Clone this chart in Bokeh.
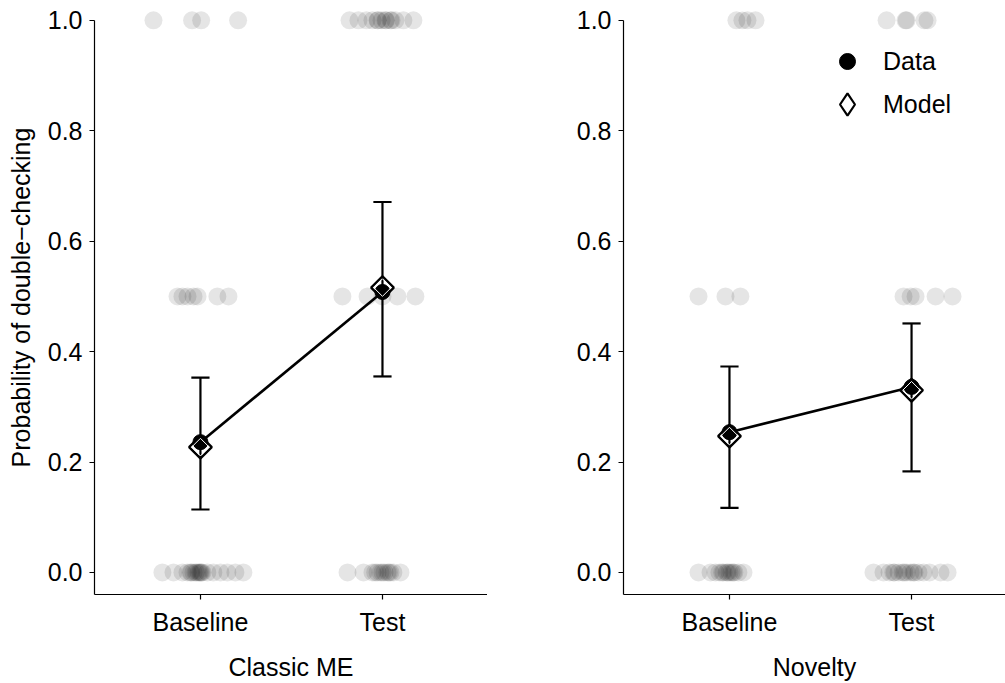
import numpy as np
from bokeh.plotting import figure
from bokeh.layouts import row
from bokeh.models import FixedTicker, Legend, LegendItem, Range1d
from bokeh.embed import file_html
from bokeh.resources import INLINE

# ---------------- data ----------------
conditions = ["Baseline", "Test"]
cond_x = [1, 2]
y_ticks = [0.0, 0.2, 0.4, 0.6, 0.8, 1.0]
y_tick_labels = ["0.0", "0.2", "0.4", "0.6", "0.8", "1.0"]
panel_titles = ["Classic ME", "Novelty"]
y_title = "Probability of double\u2212checking"

# summary values (data mean, model estimate, 95% CI)
classic_data_mean = [0.236, 0.508]
classic_model_mean = [0.227, 0.516]
classic_ci_low = [0.114, 0.355]
classic_ci_high = [0.353, 0.671]

novelty_data_mean = [0.254, 0.336]
novelty_model_mean = [0.247, 0.330]
novelty_ci_low = [0.117, 0.183]
novelty_ci_high = [0.373, 0.451]

classic_b1_x = [0.742, 0.954, 1.004, 1.207]
classic_t1_x = [1.819, 1.868, 1.912, 1.945, 1.973, 1.975, 1.995, 2.016, 2.020, 2.044,
                2.050, 2.071, 2.115, 2.170]
classic_b05_x = [0.874, 0.901, 0.929, 0.962, 0.984, 1.093, 1.154]
classic_t05_x = [1.780, 1.918, 2.000, 2.082, 2.181]
classic_b0_x = [0.791, 0.852, 0.901, 0.929, 0.945, 0.950, 0.962, 0.973, 0.980, 0.989,
                0.995, 1.000, 1.005, 1.011, 1.038, 1.071, 1.110, 1.148, 1.192, 1.236]
classic_t0_x = [1.808, 1.896, 1.945, 1.960, 1.973, 1.989, 2.000, 2.011, 2.027, 2.035,
                2.044, 2.060, 2.099]

novelty_b1_x = [1.038, 1.071, 1.099, 1.143]
novelty_t1_x = [1.863, 1.967, 1.973, 2.071, 2.088]
novelty_b05_x = [0.830, 0.978, 1.060]
novelty_t05_x = [1.956, 1.995, 2.022, 2.132, 2.225]
novelty_b0_x = [0.830, 0.896, 0.923, 0.945, 0.960, 0.967, 0.984, 0.990, 1.000, 1.011,
                1.020, 1.027, 1.049, 1.077]
novelty_t0_x = [1.791, 1.846, 1.879, 1.900, 1.907, 1.929, 1.951, 1.960, 1.973, 1.995,
                2.010, 2.016, 2.038, 2.066, 2.099, 2.159, 2.198]


def stack(b1, t1, b05, t05, b0, t0):
    xs = b1 + t1 + b05 + t05 + b0 + t0
    ys = ([1.0] * len(b1 + t1) + [0.5] * len(b05 + t05) + [0.0] * len(b0 + t0))
    return xs, ys


classic_pts_x, classic_pts_y = stack(classic_b1_x, classic_t1_x, classic_b05_x,
                                     classic_t05_x, classic_b0_x, classic_t0_x)
novelty_pts_x, novelty_pts_y = stack(novelty_b1_x, novelty_t1_x, novelty_b05_x,
                                     novelty_t05_x, novelty_b0_x, novelty_t0_x)

# ---------------- styling ----------------
FONT = "Liberation Sans"
FS = "25px"
CAP = 0.05


def make_panel(width, border_left, x_end, xlabel, ylabel, data_mean, model_mean,
               ci_low, ci_high, pts_x, pts_y):
    p = figure(width=width, height=683,
               x_range=Range1d(0.418, x_end), y_range=Range1d(-0.04, 1.036),
               output_backend="svg", toolbar_location=None,
               min_border_left=border_left, min_border_right=0,
               min_border_top=0, min_border_bottom=89)
    p.outline_line_color = None
    p.grid.visible = False
    p.background_fill_color = "white"
    p.border_fill_color = "white"

    # axes
    xa = p.xaxis[0]
    xa.ticker = FixedTicker(ticks=cond_x)
    xa.major_label_overrides = {cx: lab for cx, lab in zip(cond_x, conditions)}
    xa.axis_label = xlabel
    ya = p.yaxis[0]
    ya.ticker = FixedTicker(ticks=y_ticks)
    ya.major_label_overrides = {t: lab for t, lab in zip(y_ticks, y_tick_labels)}
    ya.bounds = (-0.04, 1.0)
    if ylabel:
        ya.axis_label = ylabel
    for ax in (xa, ya):
        ax.axis_line_color = "black"
        ax.axis_line_width = 1.2
        ax.major_tick_line_color = "black"
        ax.major_tick_line_width = 1.2
        ax.major_tick_out = 5
        ax.major_tick_in = 0
        ax.minor_tick_line_color = None
        ax.major_label_text_font = FONT
        ax.major_label_text_font_size = FS
        ax.major_label_text_color = "black"
        ax.axis_label_text_font = FONT
        ax.axis_label_text_font_size = FS
        ax.axis_label_text_font_style = "normal"
        ax.axis_label_text_color = "black"
    xa.major_label_standoff = 8
    xa.axis_label_standoff = 14
    ya.major_label_standoff = 7
    ya.axis_label_standoff = 10

    # jittered observations
    p.scatter(pts_x, pts_y, marker="circle", size=18, fill_color="black",
              fill_alpha=0.1, line_color=None)

    # connecting line
    p.line(cond_x, data_mean, line_color="black", line_width=2.6)

    # error bars
    p.segment(cond_x, ci_low, cond_x, ci_high, line_color="black", line_width=2.2)
    xl = [c - CAP for c in cond_x]
    xr = [c + CAP for c in cond_x]
    p.segment(xl, ci_low, xr, ci_low, line_color="black", line_width=2.2)
    p.segment(xl, ci_high, xr, ci_high, line_color="black", line_width=2.2)

    # data means
    dot = p.scatter(cond_x, data_mean, marker="circle", size=15,
                    fill_color="black", line_color="black")
    # model estimates (open diamonds with a thin white inner rim)
    p.scatter(cond_x, model_mean, marker="square", angle=np.pi / 4, size=16,
              fill_color=None, line_color="black", line_width=2.4)
    p.scatter(cond_x, model_mean, marker="square", angle=np.pi / 4, size=12.4,
              fill_color=None, line_color="white", line_width=1.0)
    # hidden copy used only for the legend swatch (legend glyphs ignore angle)
    leg = p.scatter(cond_x, model_mean, marker="diamond", fill_color=None,
                    line_color="black", line_width=2.2, visible=False)
    return p, dot, leg


p1, _, _ = make_panel(487, 94, 2.577, panel_titles[0], y_title,
                      classic_data_mean, classic_model_mean, classic_ci_low,
                      classic_ci_high, classic_pts_x, classic_pts_y)
p2, dot2, leg2 = make_panel(518, 136, 2.516, panel_titles[1], None,
                            novelty_data_mean, novelty_model_mean, novelty_ci_low,
                            novelty_ci_high, novelty_pts_x, novelty_pts_y)

common = dict(spacing=0, padding=0, margin=0, border_line_color=None,
              background_fill_alpha=0, label_text_font=FONT,
              label_text_font_size=FS, label_text_color="black",
              inactive_fill_alpha=0, click_policy="none")
leg_data = Legend(items=[LegendItem(label="Data", renderers=[dot2])],
                  location=(204, 513), glyph_width=40, glyph_height=40,
                  label_standoff=16, **common)
leg_model = Legend(items=[LegendItem(label="Model", renderers=[leg2])],
                   location=(196, 462), glyph_width=56, glyph_height=56,
                   label_standoff=8, **common)
p2.add_layout(leg_data)
p2.add_layout(leg_model)

layout = row(p1, p2)
open("out.html", "w").write(file_html(layout, INLINE))
